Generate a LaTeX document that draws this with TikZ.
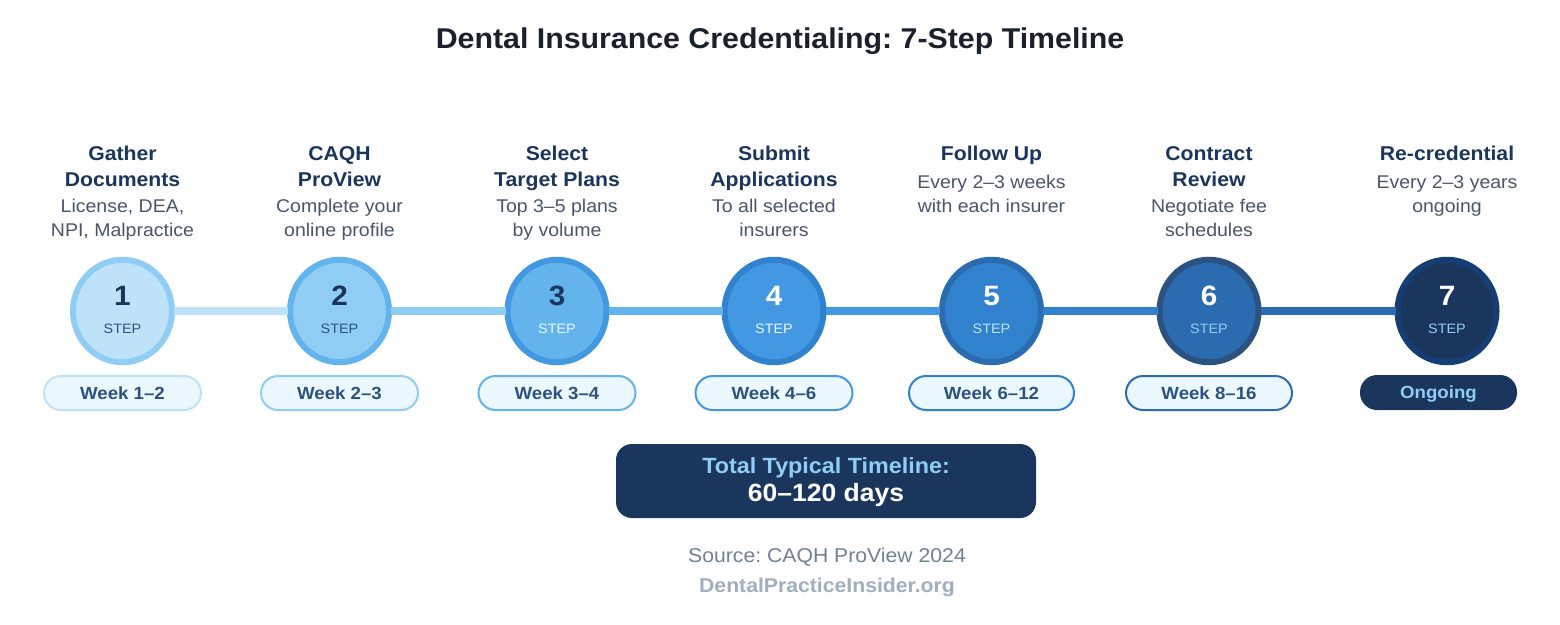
\documentclass[tikz,border=0pt]{standalone}
\usepackage{fontspec}
\usetikzlibrary{shapes.geometric}
\setmainfont[FakeStretch=1.06]{Liberation Sans}
\frenchspacing
\definecolor{cA}{HTML}{BEE3F8}
\definecolor{cB}{HTML}{90CDF4}
\definecolor{cC}{HTML}{63B3ED}
\definecolor{cD}{HTML}{4299E1}
\definecolor{cE}{HTML}{3182CE}
\definecolor{cF}{HTML}{2B6CB0}
\definecolor{cG}{HTML}{2C5282}
\definecolor{cH}{HTML}{1A365D}
\definecolor{cI}{HTML}{153E75}
\definecolor{pale}{HTML}{EBF8FF}
\definecolor{ink}{HTML}{1A202C}
\definecolor{grey}{HTML}{4A5568}
\definecolor{srcgrey}{HTML}{718096}
\definecolor{sitegrey}{HTML}{A0AEC0}
\tikzset{
  x=1pt,y=-1pt,
  stepcirc/.style={ellipse,draw=#1,line width=6pt,minimum width=99pt,minimum height=102.5pt,inner sep=0pt,outer sep=2pt},
  link/.style={line width=8.5pt,draw=#1},
  heading/.style={anchor=base,align=center,inner sep=0pt,text=cH,font=\bfseries\fontsize{20}{26}\selectfont},
  desc/.style={anchor=base,align=center,inner sep=0pt,text=grey,font=\fontsize{18.4}{23.5}\selectfont},
  numb/.style={anchor=base,inner sep=0pt,font=\bfseries\fontsize{28}{30}\selectfont},
  steptxt/.style={anchor=base,inner sep=0pt,font=\fontsize{13.6}{16}\selectfont},
  pill/.style={rounded corners=17pt,draw=#1,fill=pale,line width=2pt,minimum height=34pt,inner sep=0pt,text=cG,font=\bfseries\fontsize{17.6}{20}\selectfont},
}
\begin{document}
\begin{tikzpicture}
\useasboundingbox[fill=white] (0,0) rectangle (1560,624);
\node[anchor=base,inner sep=0pt,text=ink,font=\bfseries\fontsize{28.6}{32}\selectfont] (title) at (780,48) {Dental Insurance Credentialing: 7-Step Timeline};

\node[stepcirc=cB,fill=cA] (c1) at (122.5,311) {};
\node[stepcirc=cC,fill=cB] (c2) at (339.5,311) {};
\node[stepcirc=cD,fill=cC] (c3) at (557,311) {};
\node[stepcirc=cE,fill=cD] (c4) at (774,311) {};
\node[stepcirc=cF,fill=cE] (c5) at (991.5,311) {};
\node[stepcirc=cG,fill=cF] (c6) at (1209,311) {};
\node[stepcirc=cI,fill=cH] (c7) at (1447,311) {};

\draw[link=cA] (c1) -- (c2);
\draw[link=cB] (c2) -- (c3);
\draw[link=cC] (c3) -- (c4);
\draw[link=cD] (c4) -- (c5);
\draw[link=cE] (c5) -- (c6);
\draw[link=cF] (c6) -- (c7);

\node[numb,text=cH] (n1) at (122.5,305) {1};
\node[numb,text=cH] (n2) at (339.5,305) {2};
\node[numb,text=cH] (n3) at (557,305) {3};
\node[numb,text=white] (n4) at (774,305) {4};
\node[numb,text=white] (n5) at (991.5,305) {5};
\node[numb,text=white] (n6) at (1209,305) {6};
\node[numb,text=white] (n7) at (1447,305) {7};

\node[steptxt,text=cG] (s1) at (122.5,333) {STEP};
\node[steptxt,text=cG] (s2) at (339.5,333) {STEP};
\node[steptxt,text=pale] (s3) at (557,333) {STEP};
\node[steptxt,text=pale] (s4) at (774,333) {STEP};
\node[steptxt,text=cA] (s5) at (991.5,333) {STEP};
\node[steptxt,text=cB] (s6) at (1209,333) {STEP};
\node[steptxt,text=cB] (s7) at (1447,333) {STEP};

\node[heading] (h1) at (122.5,186) {Gather\\Documents};
\node[heading] (h2) at (339.5,186) {CAQH\\ProView};
\node[heading] (h3) at (557,186) {Select\\Target Plans};
\node[heading] (h4) at (774,186) {Submit\\Applications};
\node[heading] (h5) at (991.5,160) {Follow Up};
\node[heading] (h6) at (1209,186) {Contract\\Review};
\node[heading] (h7) at (1447,160) {Re-credential};

\node[desc] (d1) at (122.5,236) {License, DEA,\\NPI, Malpractice};
\node[desc] (d2) at (339.5,236) {Complete your\\online profile};
\node[desc] (d3) at (557,236) {Top 3–5 plans\\by volume};
\node[desc] (d4) at (774,236) {To all selected\\insurers};
\node[desc] (d5) at (991.5,212) {Every 2–3 weeks\\with each insurer};
\node[desc] (d6) at (1209,236) {Negotiate fee\\schedules};
\node[desc] (d7) at (1447,212) {Every 2–3 years\\ongoing};

\node[pill=cA,minimum width=157pt] (p1) at (122.5,393) {Week 1–2};
\node[pill=cB,minimum width=157pt] (p2) at (339.5,393) {Week 2–3};
\node[pill=cC,minimum width=157pt] (p3) at (557,393) {Week 3–4};
\node[pill=cD,minimum width=157pt] (p4) at (774,393) {Week 4–6};
\node[pill=cE,minimum width=165pt] (p5) at (991.5,393) {Week 6–12};
\node[pill=cF,minimum width=166pt] (p6) at (1209,393) {Week 8–16};
\node[rounded corners=17pt,fill=cH,minimum width=157pt,minimum height=35pt,inner sep=0pt] (p7) at (1438.5,392.5) {};
\node[anchor=base,inner sep=0pt,text=cB,font=\bfseries\fontsize{17.6}{20}\selectfont] (p7t) at (1438.5,398) {Ongoing};

\node[rounded corners=16pt,fill=cH,minimum width=420pt,minimum height=74pt,inner sep=0pt] (total) at (826,481) {};
\node[anchor=base,inner sep=0pt,text=cB,font=\bfseries\fontsize{22}{24}\selectfont] (t1) at (826,473) {Total Typical Timeline:};
\node[anchor=base,inner sep=0pt,text=white,font=\bfseries\fontsize{25}{28}\selectfont] (t2) at (826,501) {60–120 days};
\node[anchor=base,inner sep=0pt,text=srcgrey,font=\fontsize{20}{22}\selectfont] (src) at (827,562) {Source: CAQH ProView 2024};
\node[anchor=base,inner sep=0pt,text=sitegrey,font=\bfseries\fontsize{20}{22}\selectfont] (site) at (827,592) {DentalPracticeInsider.org};
\end{tikzpicture}
\end{document}
